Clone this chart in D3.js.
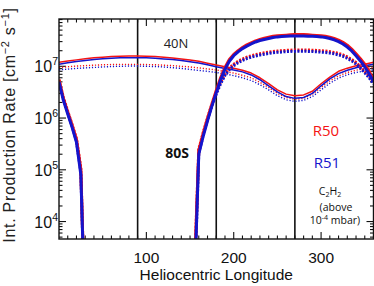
<!DOCTYPE html>
<html><head><meta charset="utf-8">
<script src="https://cdn.jsdelivr.net/npm/d3@7"></script>
<style>body{margin:0;background:#fff}svg{display:block}</style>
</head><body><svg id="c" width="374" height="286"></svg>
<script>
// ---- data ----
const lon10 = [0,10,20,30,40,50,60,70,80,90,100,110,120,130,140,150,160,170,180,190,200,210,220,230,240,250,260,270,280,290,300,310,320,330,340,350,360];
const lon5 = [0,5,10,15,20,25,30,35,40,45,50,55,60,65,70,75,80,85,90,95,100,105,110,115,120,125,130,135,140,145,150,155,160,165,170,175,180,185,190,195,200,205,210,215,220,225,230,235,240,245,250,255,260,265,270,275,280,285,290,295,300,305,310,315,320,325,330,335,340,345,350,355,360];

const r50_40N = [1.2e7,1.26e7,1.33e7,1.4e7,1.46e7,1.5e7,1.54e7,1.57e7,1.58e7,1.58e7,1.57e7,1.54e7,1.5e7,1.45e7,1.38e7,1.32e7,1.25e7,1.15e7,1.06e7,9.8e6,9.2e6,8.4e6,7.4e6,6.0e6,4.6e6,3.5e6,2.9e6,2.7e6,2.8e6,3.3e6,4.6e6,6.2e6,8.0e6,9.2e6,1.02e7,1.1e7,1.2e7];
const r51_40N = [1.1e7,1.17e7,1.24e7,1.3e7,1.36e7,1.4e7,1.43e7,1.46e7,1.47e7,1.47e7,1.46e7,1.43e7,1.39e7,1.35e7,1.29e7,1.23e7,1.16e7,1.07e7,9.8e6,9.1e6,8.5e6,7.8e6,6.8e6,5.5e6,4.2e6,3.2e6,2.6e6,2.4e6,2.5e6,3.0e6,4.2e6,5.7e6,7.2e6,8.4e6,9.4e6,1.02e7,1.1e7];
const r50_40N_dot = [9.5e6,9.8e6,1.01e7,1.03e7,1.05e7,1.07e7,1.08e7,1.09e7,1.09e7,1.09e7,1.08e7,1.07e7,1.05e7,1.03e7,1.0e7,9.7e6,9.3e6,8.9e6,8.5e6,7.9e6,7.4e6,6.7e6,6.0e6,4.9e6,3.9e6,3.0e6,2.5e6,2.3e6,2.4e6,2.9e6,3.9e6,5.2e6,6.5e6,7.6e6,8.4e6,9.0e6,9.5e6];
const r51_40N_dot = [8.5e6,8.8e6,9.1e6,9.3e6,9.5e6,9.7e6,9.9e6,1.0e7,1.01e7,1.01e7,1.0e7,9.9e6,9.7e6,9.4e6,9.1e6,8.7e6,8.3e6,8.0e6,7.6e6,7.1e6,6.6e6,6.0e6,5.3e6,4.4e6,3.5e6,2.7e6,2.25e6,2.1e6,2.2e6,2.6e6,3.5e6,4.7e6,5.9e6,6.9e6,7.6e6,8.1e6,8.5e6];

const r50_80S = [5.5e6,2.4e6,1.3e6,7.2e5,3.8e5,1.0e5,1e2,0,0,0,0,0,0,0,0,0,0,0,0,0,0,0,0,0,0,0,0,0,0,0,0,1e3,2.4e5,5.0e5,9.8e5,1.85e6,3.4e6,6.0e6,9.5e6,1.35e7,1.7e7,2.0e7,2.3e7,2.6e7,2.85e7,3.1e7,3.3e7,3.5e7,3.65e7,3.8e7,3.9e7,3.95e7,4.0e7,4.05e7,4.1e7,4.1e7,4.1e7,4.05e7,4.0e7,3.95e7,3.9e7,3.8e7,3.65e7,3.45e7,3.2e7,2.9e7,2.55e7,2.15e7,1.75e7,1.4e7,1.1e7,8.0e6,5.5e6];
const r51_80S = [5.0e6,2.2e6,1.2e6,6.6e5,3.4e5,8e4,1e2,0,0,0,0,0,0,0,0,0,0,0,0,0,0,0,0,0,0,0,0,0,0,0,0,5e2,2.0e5,4.4e5,8.8e5,1.7e6,3.1e6,5.5e6,8.8e6,1.25e7,1.6e7,1.9e7,2.2e7,2.45e7,2.7e7,2.95e7,3.15e7,3.3e7,3.45e7,3.6e7,3.7e7,3.75e7,3.8e7,3.85e7,3.85e7,3.85e7,3.85e7,3.8e7,3.8e7,3.75e7,3.7e7,3.6e7,3.45e7,3.25e7,3.0e7,2.7e7,2.35e7,1.98e7,1.6e7,1.27e7,9.8e6,7.2e6,5.0e6];
const r50_80S_dot = [5.5e6,2.5e6,1.35e6,7.5e5,4.0e5,1.1e5,1e2,0,0,0,0,0,0,0,0,0,0,0,0,0,0,0,0,0,0,0,0,0,0,0,0,1e3,2.5e5,5.2e5,1.0e6,1.85e6,3.2e6,5.0e6,7.2e6,9.2e6,1.1e7,1.25e7,1.38e7,1.5e7,1.6e7,1.68e7,1.75e7,1.82e7,1.88e7,1.93e7,1.97e7,2.0e7,2.03e7,2.05e7,2.07e7,2.07e7,2.07e7,2.06e7,2.05e7,2.03e7,2.0e7,1.97e7,1.92e7,1.85e7,1.77e7,1.66e7,1.52e7,1.36e7,1.18e7,9.8e6,8.0e6,6.5e6,5.0e6];
const r51_80S_dot = [5.0e6,2.3e6,1.25e6,7.0e5,3.6e5,9e4,1e2,0,0,0,0,0,0,0,0,0,0,0,0,0,0,0,0,0,0,0,0,0,0,0,0,5e2,2.1e5,4.6e5,9.2e5,1.7e6,2.9e6,4.6e6,6.7e6,8.6e6,1.03e7,1.17e7,1.3e7,1.41e7,1.5e7,1.58e7,1.65e7,1.71e7,1.77e7,1.82e7,1.86e7,1.89e7,1.92e7,1.94e7,1.95e7,1.95e7,1.95e7,1.94e7,1.93e7,1.91e7,1.88e7,1.85e7,1.8e7,1.74e7,1.66e7,1.56e7,1.43e7,1.28e7,1.11e7,9.2e6,7.5e6,6.0e6,4.6e6];

const xTicks = [100,200,300];
const xMinor = [10,20,30,40,50,60,70,80,90,110,120,130,140,150,160,170,180,190,210,220,230,240,250,260,270,280,290,310,320,330,340,350];
const yTicks = [1e4,1e5,1e6,1e7];
const yTickExp = ["4","5","6","7"];
const seasonLines = [90,180,270];

// ---- layout ----
const L = 59, R = 373.5, T = 19, B = 239;
const RED = "#f41414", BLUE = "#1414cc";
const svg = d3.select("#c");
const x = d3.scaleLinear().domain([0,360]).range([L,R]);
const y = d3.scaleLog().domain([4.6e3, 8.2e7]).range([B,T]);

svg.append("defs").append("clipPath").attr("id","clip")
  .append("rect").attr("x",L).attr("y",T).attr("width",R-L).attr("height",B-T);

const yMinor = [];
[1e3,1e4,1e5,1e6,1e7].forEach(d => { for (let k=2;k<=9;k++){ const v=d*k; if (v>y.domain()[0] && v<y.domain()[1]) yMinor.push(v);} });

const ax = svg.append("g").attr("stroke","#111").attr("stroke-width",1.1);
yMinor.forEach(v => {
  ax.append("line").attr("x1",L).attr("x2",L+3.5).attr("y1",y(v)).attr("y2",y(v));
  ax.append("line").attr("x1",R).attr("x2",R-3.5).attr("y1",y(v)).attr("y2",y(v));
});
yTicks.forEach(v => {
  ax.append("line").attr("x1",L).attr("x2",L+7).attr("y1",y(v)).attr("y2",y(v));
  ax.append("line").attr("x1",R).attr("x2",R-7).attr("y1",y(v)).attr("y2",y(v));
});
xMinor.forEach(v => {
  ax.append("line").attr("x1",x(v)).attr("x2",x(v)).attr("y1",B).attr("y2",B-3.5);
  ax.append("line").attr("x1",x(v)).attr("x2",x(v)).attr("y1",T).attr("y2",T+3.5);
});
xTicks.forEach(v => {
  ax.append("line").attr("x1",x(v)).attr("x2",x(v)).attr("y1",B).attr("y2",B-7);
  ax.append("line").attr("x1",x(v)).attr("x2",x(v)).attr("y1",T).attr("y2",T+7);
});

svg.append("g").selectAll("line").data(seasonLines).join("line")
  .attr("x1",d=>x(d)).attr("x2",d=>x(d)).attr("y1",T).attr("y2",B)
  .attr("stroke","#111").attr("stroke-width",1.6);

const g = svg.append("g").attr("clip-path","url(#clip)").attr("fill","none");
function draw(lons, vals, color, w, dash){
  const line = d3.line().defined(d => d[1] > 0).x(d => x(d[0])).y(d => y(d[1]));
  const p = g.append("path").datum(lons.map((l,i)=>[l, vals[i]]))
    .attr("d", line).attr("stroke", color).attr("stroke-width", w).attr("stroke-linejoin","round");
  if (dash) p.attr("stroke-dasharray", dash);
}
draw(lon10, r50_40N_dot, RED, 1.4, "1.2,1.8");
draw(lon10, r51_40N_dot, BLUE, 1.4, "1.2,1.8");
draw(lon10, r50_40N, RED, 1.5);
draw(lon10, r51_40N, BLUE, 1.5);
draw(lon5, r50_80S_dot, RED, 3, "2,1.5");
draw(lon5, r51_80S_dot, BLUE, 3, "2,1.5");
draw(lon5, r50_80S, RED, 3);
draw(lon5, r51_80S, BLUE, 3);

svg.append("rect").attr("x",L).attr("y",T).attr("width",R-L).attr("height",B-T)
  .attr("fill","none").attr("stroke","#111").attr("stroke-width",1.4);

const FONT = "'Liberation Sans', Arial, sans-serif";
svg.append("g").selectAll("text").data(xTicks).join("text")
  .attr("x",d=>x(d)).attr("y",263).attr("text-anchor","middle")
  .attr("font-family",FONT).attr("font-size",15.5).attr("fill","#111").text(d=>d);

yTicks.forEach((v,i) => {
  const t = svg.append("text").attr("x",L-1).attr("y",y(v)+6).attr("text-anchor","end")
    .attr("font-family",FONT).attr("font-size",16).attr("fill","#111");
  t.append("tspan").text("10");
  t.append("tspan").attr("dy",-7).attr("font-size",10.5).text(yTickExp[i]);
});

svg.append("text").attr("x",(L+R)/2).attr("y",280).attr("text-anchor","middle")
  .attr("font-family",FONT).attr("font-size",15.5).attr("fill","#111").text("Heliocentric Longitude");

const yt = svg.append("text").attr("transform","translate(15,125) rotate(-90)").attr("text-anchor","middle")
  .attr("font-family",FONT).attr("font-size",16).attr("fill","#222").attr("letter-spacing",0.7);
yt.append("tspan").text("Int. Production Rate [cm");
yt.append("tspan").attr("dy",-6).attr("font-size",11).text("−2");
yt.append("tspan").attr("dy",6).text(" s");
yt.append("tspan").attr("dy",-6).attr("font-size",11).text("−1");
yt.append("tspan").attr("dy",6).text("]");

const AF = "'Open Sans','DejaVu Sans',sans-serif";
svg.append("text").attr("x",176).attr("y",48).attr("text-anchor","middle")
  .attr("font-family",AF).attr("font-size",13).attr("fill","#222").text("40N");
svg.append("text").attr("x",177).attr("y",158).attr("text-anchor","middle")
  .attr("font-family",AF).attr("font-size",14).attr("font-weight","bold").attr("fill","#111").text("80S");
svg.append("text").attr("x",326).attr("y",136).attr("text-anchor","middle")
  .attr("font-family",AF).attr("font-size",15).attr("fill",RED).text("R50");
svg.append("text").attr("x",327).attr("y",168).attr("text-anchor","middle")
  .attr("font-family",AF).attr("font-size",15).attr("fill",BLUE).text("R51");

const c1 = svg.append("text").attr("x",330).attr("y",195).attr("text-anchor","middle")
  .attr("font-family",AF).attr("font-size",10.5).attr("fill","#111");
c1.append("tspan").text("C");
c1.append("tspan").attr("dy",2).attr("font-size",7).text("2");
c1.append("tspan").attr("dy",-2).text("H");
c1.append("tspan").attr("dy",2).attr("font-size",7).text("2");
svg.append("text").attr("x",336).attr("y",211).attr("text-anchor","middle")
  .attr("font-family",AF).attr("font-size",10.5).attr("fill","#111").text("(above");
const c3 = svg.append("text").attr("x",335).attr("y",224).attr("text-anchor","middle")
  .attr("font-family",AF).attr("font-size",10.5).attr("fill","#111");
c3.append("tspan").text("10");
c3.append("tspan").attr("dy",-4).attr("font-size",7).text("-4");
c3.append("tspan").attr("dy",4).text(" mbar)");
</script></body></html>
